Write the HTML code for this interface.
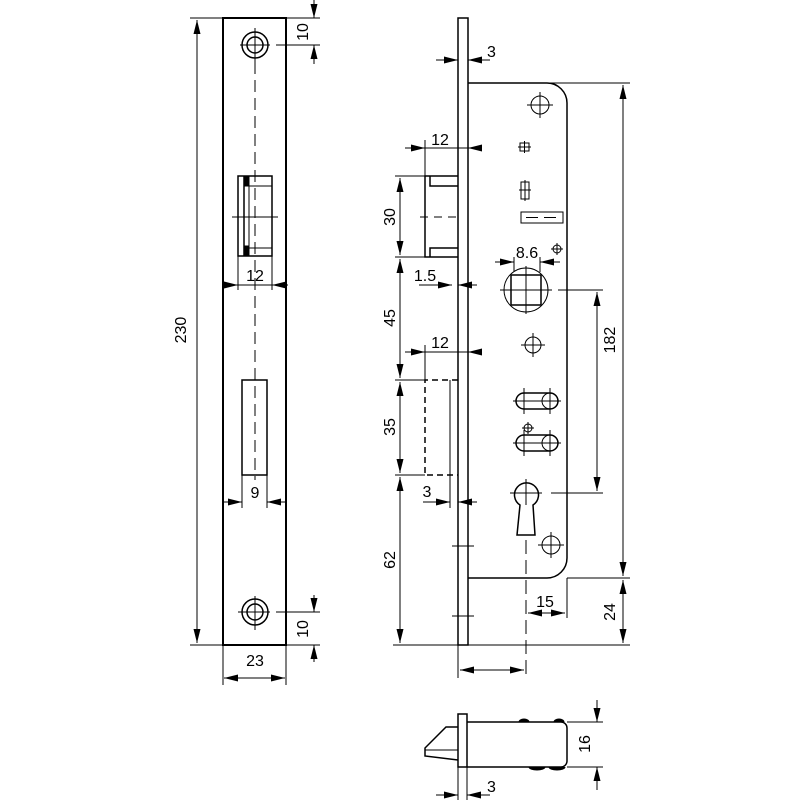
<!DOCTYPE html>
<html><head><meta charset="utf-8"><style>html,body{margin:0;padding:0;background:#fff}svg{display:block}text{font-family:"Liberation Sans",sans-serif;font-size:16px;fill:#000}</style></head><body>
<svg width="800" height="800" viewBox="0 0 800 800" xmlns="http://www.w3.org/2000/svg">
<defs>
<marker id="a" viewBox="0 0 14 7" refX="14" refY="3.5" markerWidth="14" markerHeight="7" orient="auto-start-reverse" markerUnits="userSpaceOnUse"><path d="M0,0L14,3.5L0,7z" fill="#000"/></marker>
</defs>
<g stroke="#000" fill="none" stroke-width="1">
<!-- LEFT PLATE -->
<rect x="223" y="18" width="63" height="627" stroke-width="2"/>
<circle cx="255" cy="45" r="13" stroke-width="1.5"/><circle cx="255" cy="45" r="8" stroke-width="1.5"/>
<circle cx="255" cy="612" r="13" stroke-width="1.5"/><circle cx="255" cy="612" r="8" stroke-width="1.5"/>
<line x1="255" y1="28" x2="255" y2="62"/><line x1="240" y1="45" x2="270" y2="45"/>
<line x1="255" y1="596" x2="255" y2="630"/><line x1="238" y1="612" x2="270" y2="612"/><line x1="276" y1="612" x2="320" y2="612"/>
<line x1="276" y1="45" x2="320" y2="45"/>
<line x1="255" y1="62" x2="255" y2="480" stroke-dasharray="12,6"/>
<!-- latch cutout -->
<rect x="238" y="176" width="34" height="80" stroke-width="1.5"/>
<rect x="244" y="176" width="5" height="10" fill="#000"/>
<rect x="244" y="246" width="5" height="10" fill="#000"/>
<line x1="244" y1="176" x2="244" y2="256" stroke-width="1.5"/>
<line x1="249" y1="186" x2="272" y2="186"/><line x1="249" y1="248" x2="272" y2="248"/>
<line x1="249" y1="186" x2="249" y2="248"/>
<line x1="232" y1="217" x2="278" y2="217"/>
<!-- bolt cutout -->
<rect x="242" y="380" width="25" height="95" stroke-width="1.5"/>
<!-- dims left -->
<line x1="190" y1="18" x2="223" y2="18"/><line x1="190" y1="645" x2="223" y2="645"/>
<line x1="197" y1="20" x2="197" y2="643" marker-start="url(#a)" marker-end="url(#a)"/>
<line x1="286" y1="18" x2="320" y2="18"/><line x1="286" y1="645" x2="320" y2="645"/>
<line x1="314" y1="0" x2="314" y2="18" marker-end="url(#a)"/><line x1="314" y1="64" x2="314" y2="45" marker-end="url(#a)"/>
<line x1="314" y1="595" x2="314" y2="612" marker-end="url(#a)"/><line x1="314" y1="662" x2="314" y2="645" marker-end="url(#a)"/>
<line x1="238" y1="256" x2="238" y2="290"/><line x1="272" y1="256" x2="272" y2="290"/>
<line x1="222" y1="285" x2="238" y2="285" marker-end="url(#a)"/><line x1="288" y1="285" x2="272" y2="285" marker-end="url(#a)"/><line x1="238" y1="285" x2="272" y2="285"/>
<line x1="242" y1="475" x2="242" y2="508"/><line x1="267" y1="475" x2="267" y2="508"/>
<line x1="224" y1="502" x2="242" y2="502" marker-end="url(#a)"/><line x1="285" y1="502" x2="267" y2="502" marker-end="url(#a)"/>
<line x1="223" y1="645" x2="223" y2="685"/><line x1="286" y1="645" x2="286" y2="685"/>
<line x1="224" y1="678" x2="285" y2="678" marker-start="url(#a)" marker-end="url(#a)"/>

<!-- RIGHT VIEW faceplate -->
<rect x="458" y="18" width="10" height="627" stroke-width="1.5"/>
<line x1="436" y1="60" x2="458" y2="60" marker-end="url(#a)"/><line x1="490" y1="60" x2="468" y2="60" marker-end="url(#a)"/>
<!-- body -->
<path d="M468,83 H547 A20,20 0 0 1 567,103 V558 A20,20 0 0 1 547,578 H468" stroke-width="1.5"/>
<circle cx="540" cy="105" r="9"/><line x1="540" y1="92" x2="540" y2="118"/><line x1="527" y1="105" x2="553" y2="105"/>
<rect x="520" y="143" width="9" height="8"/><line x1="524.5" y1="141" x2="524.5" y2="153"/><line x1="518" y1="147" x2="531" y2="147"/>
<rect x="521" y="182" width="8" height="17"/><line x1="525" y1="180" x2="525" y2="201"/><line x1="519" y1="190" x2="531" y2="190"/>
<rect x="521" y="212" width="42" height="11"/><line x1="526" y1="217.5" x2="560" y2="217.5" stroke-dasharray="12,6"/>
<circle cx="526" cy="290" r="22"/><rect x="511" y="275" width="30" height="30" stroke-width="1.5"/>
<line x1="526" y1="266" x2="526" y2="314"/><line x1="500" y1="290" x2="552" y2="290"/>
<line x1="514" y1="257" x2="514" y2="272"/><line x1="540" y1="257" x2="540" y2="272"/>
<line x1="495" y1="262" x2="514" y2="262" marker-end="url(#a)"/><line x1="560" y1="262" x2="540" y2="262" marker-end="url(#a)"/>
<circle cx="557" cy="249" r="4"/><line x1="557" y1="243" x2="557" y2="255"/><line x1="551" y1="249" x2="563" y2="249"/>
<circle cx="533" cy="345" r="8"/><line x1="533" y1="333" x2="533" y2="357"/><line x1="521" y1="345" x2="545" y2="345"/>
<path d="M524,393 H550 A8,8 0 0 1 550,409 H524 A8,8 0 0 1 524,393 Z" stroke-width="1.5"/>
<circle cx="550" cy="401" r="8"/>
<line x1="524" y1="388" x2="524" y2="414"/><line x1="550" y1="388" x2="550" y2="414"/><line x1="513" y1="401" x2="561" y2="401"/>
<path d="M524,435 H550 A8,8 0 0 1 550,451 H524 A8,8 0 0 1 524,435 Z" stroke-width="1.5"/>
<circle cx="550" cy="443" r="8"/>
<line x1="524" y1="430" x2="524" y2="456"/><line x1="550" y1="430" x2="550" y2="456"/><line x1="513" y1="443" x2="561" y2="443"/>
<circle cx="528" cy="428" r="4"/><line x1="528" y1="422" x2="528" y2="434"/><line x1="522" y1="428" x2="534" y2="428"/>
<path d="M520,505 A12,12 0 1 1 533,505 L535,535 H517 Z" stroke-width="1.5"/>
<line x1="526" y1="479" x2="526" y2="505"/><line x1="510" y1="493" x2="542" y2="493"/>
<line x1="526" y1="540" x2="526" y2="680" stroke-dasharray="14,6"/>
<circle cx="551" cy="545" r="9"/><line x1="551" y1="532" x2="551" y2="558"/><line x1="538" y1="545" x2="564" y2="545"/>
<line x1="452" y1="546" x2="474" y2="546"/><line x1="452" y1="616" x2="474" y2="616"/>
<!-- latch -->
<path d="M458,176 H425 V257 H458" stroke-width="1.5"/>
<path d="M458,186 H430 V176 M458,248 H430 V257" stroke-width="1.5"/>
<line x1="420" y1="217" x2="462" y2="217" stroke-dasharray="8,6"/>
<!-- deadbolt -->
<path d="M458,380 H425 V475 H458" stroke-dasharray="6,4" stroke-width="1.5"/>
<line x1="450" y1="380" x2="450" y2="508"/>
<!-- left dims of right view -->
<line x1="425" y1="140" x2="425" y2="176"/>
<line x1="405" y1="148" x2="425" y2="148" marker-end="url(#a)"/><line x1="480" y1="148" x2="468" y2="148" marker-end="url(#a)"/><line x1="425" y1="148" x2="468" y2="148"/>
<line x1="395" y1="176" x2="425" y2="176"/><line x1="395" y1="257" x2="458" y2="257"/>
<line x1="400" y1="178" x2="400" y2="255" marker-start="url(#a)" marker-end="url(#a)"/>
<line x1="400" y1="259" x2="400" y2="378" marker-start="url(#a)" marker-end="url(#a)"/>
<line x1="419" y1="285" x2="452" y2="285" marker-end="url(#a)"/><line x1="477" y1="285" x2="458" y2="285" marker-end="url(#a)"/>
<line x1="425" y1="345" x2="425" y2="380"/>
<line x1="405" y1="352" x2="425" y2="352" marker-end="url(#a)"/><line x1="480" y1="352" x2="468" y2="352" marker-end="url(#a)"/><line x1="425" y1="352" x2="468" y2="352"/>
<line x1="395" y1="380" x2="425" y2="380"/><line x1="395" y1="475" x2="425" y2="475"/>
<line x1="400" y1="382" x2="400" y2="473" marker-start="url(#a)" marker-end="url(#a)"/>
<line x1="423" y1="502" x2="450" y2="502" marker-end="url(#a)"/><line x1="477" y1="502" x2="458" y2="502" marker-end="url(#a)"/>
<line x1="400" y1="477" x2="400" y2="643" marker-start="url(#a)" marker-end="url(#a)"/>
<line x1="393" y1="645" x2="630" y2="645"/>
<line x1="458" y1="645" x2="458" y2="678"/>
<line x1="460" y1="670" x2="524" y2="670" marker-start="url(#a)" marker-end="url(#a)"/>
<!-- right dims -->
<line x1="547" y1="83" x2="630" y2="83"/><line x1="567" y1="578" x2="630" y2="578"/>
<line x1="623" y1="85" x2="623" y2="576" marker-start="url(#a)" marker-end="url(#a)"/>
<line x1="623" y1="580" x2="623" y2="643" marker-start="url(#a)" marker-end="url(#a)"/>
<line x1="558" y1="290" x2="603" y2="290"/><line x1="551" y1="493" x2="603" y2="493"/>
<line x1="597" y1="292" x2="597" y2="491" marker-start="url(#a)" marker-end="url(#a)"/>
<line x1="567" y1="578" x2="567" y2="618"/>
<line x1="528" y1="613" x2="565" y2="613" marker-start="url(#a)" marker-end="url(#a)"/>

<!-- BOTTOM VIEW -->
<rect x="458" y="714" width="9" height="53" stroke-width="1.5"/>
<path d="M467,722 H561 A6,6 0 0 1 567,728 V761 A6,6 0 0 1 561,767 H467" stroke-width="1.5"/>
<path d="M458,727 H446 L425,748 V756 L458,760" stroke-width="1.5"/>
<line x1="425" y1="750" x2="458" y2="750"/>
<path d="M519,722 A5,3 0 0 1 529,722 M554,722 A5,3 0 0 1 564,722" fill="#000"/>
<path d="M529,767 A8,3 0 0 0 545,767 M549,767 A8,3 0 0 0 565,767" fill="#000"/>
<line x1="567" y1="722" x2="603" y2="722"/><line x1="567" y1="767" x2="603" y2="767"/>
<line x1="597" y1="700" x2="597" y2="722" marker-end="url(#a)"/><line x1="597" y1="790" x2="597" y2="767" marker-end="url(#a)"/>
<line x1="458" y1="767" x2="458" y2="800"/><line x1="467" y1="767" x2="467" y2="800"/>
<line x1="436" y1="795" x2="458" y2="795" marker-end="url(#a)"/><line x1="490" y1="795" x2="467" y2="795" marker-end="url(#a)"/>
</g>
<!-- texts -->
<text x="186" y="330" text-anchor="middle" transform="rotate(-90 186 330)">230</text>
<text x="308" y="32" text-anchor="middle" transform="rotate(-90 308 32)">10</text>
<text x="308" y="629" text-anchor="middle" transform="rotate(-90 308 629)">10</text>
<text x="255" y="281" text-anchor="middle">12</text>
<text x="255" y="498" text-anchor="middle">9</text>
<text x="255" y="666" text-anchor="middle">23</text>
<text x="487" y="57">3</text>
<text x="440" y="145" text-anchor="middle">12</text>
<text x="395" y="217" text-anchor="middle" transform="rotate(-90 395 217)">30</text>
<text x="425" y="281" text-anchor="middle">1.5</text>
<text x="395" y="318" text-anchor="middle" transform="rotate(-90 395 318)">45</text>
<text x="440" y="348" text-anchor="middle">12</text>
<text x="395" y="427" text-anchor="middle" transform="rotate(-90 395 427)">35</text>
<text x="427" y="497" text-anchor="middle">3</text>
<text x="395" y="560" text-anchor="middle" transform="rotate(-90 395 560)">62</text>
<text x="527" y="258" text-anchor="middle">8.6</text>
<text x="615" y="340" text-anchor="middle" transform="rotate(-90 615 340)">182</text>
<text x="545" y="607" text-anchor="middle">15</text>
<text x="615" y="612" text-anchor="middle" transform="rotate(-90 615 612)">24</text>
<text x="590" y="744" text-anchor="middle" transform="rotate(-90 590 744)">16</text>
<text x="487" y="792">3</text>
</svg>
</body></html>
